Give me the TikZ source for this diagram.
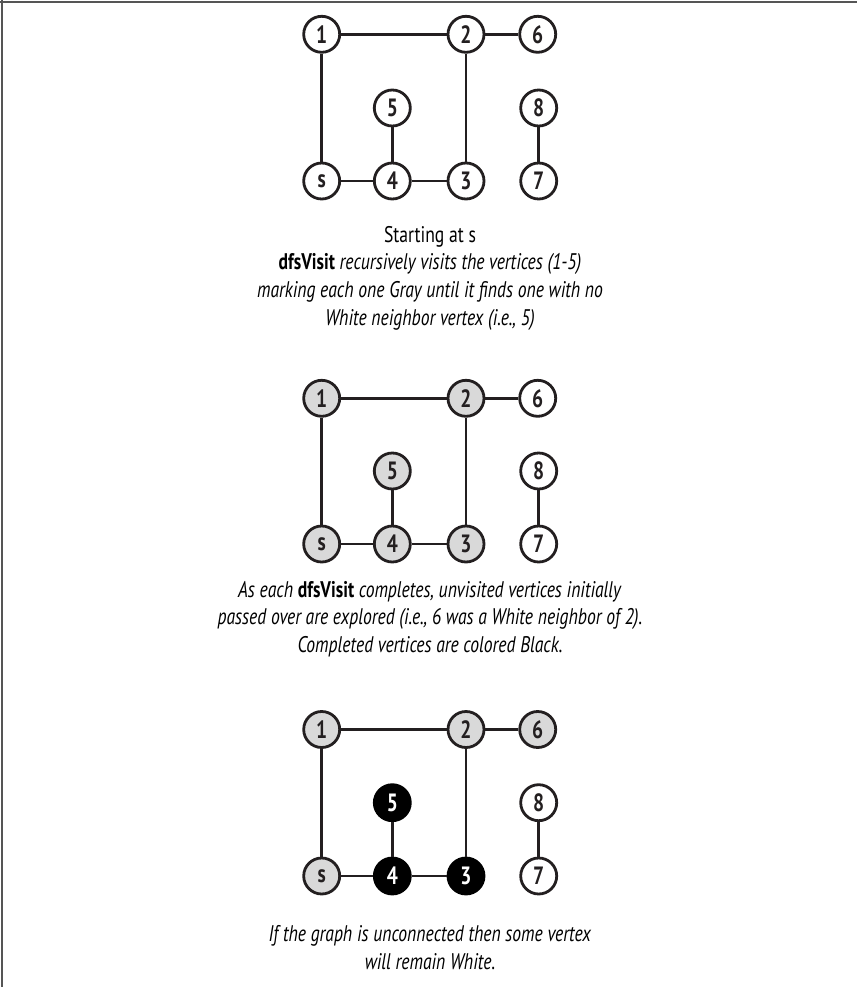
\documentclass[tikz,border=0pt]{standalone}
\usepackage{fontspec}
\setmainfont[FakeStretch=0.78]{PT Sans}
\definecolor{edgecol}{HTML}{231F20}
\definecolor{grayfill}{HTML}{D9D9D9}
\definecolor{framecol}{HTML}{555555}
\tikzset{
  vtx/.style={circle, draw=edgecol, line width=2.8pt, minimum size=36pt, inner sep=0pt,
    font=\fontsize{25}{25}\selectfont\bfseries, fill=white, text=edgecol},
  gvtx/.style={vtx, fill=grayfill},
  bvtx/.style={vtx, fill=black, draw=black, text=white},
  edge/.style={draw=edgecol, line width=2.8pt},
  caption/.style={align=center, font=\fontsize{22.6}{27.7}\selectfont, text=black},
  framel/.style={draw=framecol, line width=2pt}
}
\begin{document}
\begin{tikzpicture}[x=1pt,y=-1pt]
\useasboundingbox (0,0) rectangle (857,987);
\coordinate (fa) at (0,2);
\coordinate (fb) at (857,2);
\coordinate (fc) at (2,0);
\coordinate (fd) at (2,987);
\draw[framel] (fa) -- (fb);
\draw[framel] (fc) -- (fd);

% Graph 1
\node[vtx] (a1) at (321.7,34.3) {1};
\node[vtx] (a2) at (466,34.3) {2};
\node[vtx] (a6) at (537.7,34.3) {6};
\node[vtx] (a5) at (392.3,108) {5};
\node[vtx] (a8) at (538.7,108) {8};
\node[vtx] (as) at (321.7,181) {s};
\node[vtx] (a4) at (392.3,181) {4};
\node[vtx] (a3) at (466,181) {3};
\node[vtx] (a7) at (538.7,181) {7};
\foreach \u/\v in {a1/a2,a2/a6,a1/as,a2/a3,a5/a4,as/a4,a4/a3,a8/a7}
  \draw[edge] (\u) -- (\v);
\node[caption] (t1) at (430,278) {Starting at s\\\textbf{dfsVisit} \textit{recursively visits the vertices (1-5)}\\\textit{marking each one Gray until it finds one with no}\\\textit{White neighbor vertex (i.e., 5)}};

% Graph 2
\node[gvtx] (b1) at (321.7,398.3) {1};
\node[gvtx] (b2) at (466,398.3) {2};
\node[vtx] (b6) at (537.7,398.3) {6};
\node[gvtx] (b5) at (392.3,471) {5};
\node[vtx] (b8) at (538.7,471) {8};
\node[gvtx] (bs) at (321.7,544) {s};
\node[gvtx] (b4) at (392.3,544) {4};
\node[gvtx] (b3) at (466,544) {3};
\node[vtx] (b7) at (538.7,544) {7};
\foreach \u/\v in {b1/b2,b2/b6,b1/bs,b2/b3,b5/b4,bs/b4,b4/b3,b8/b7}
  \draw[edge] (\u) -- (\v);
\node[caption] (t2) at (430,619) {\textit{As each }\textbf{dfsVisit}\textit{ completes, unvisited vertices initially}\\\textit{passed over are explored (i.e., 6 was a White neighbor of 2).}\\\textit{Completed vertices are colored Black.}};

% Graph 3
\node[gvtx] (c1) at (321.7,729.5) {1};
\node[gvtx] (c2) at (466,729.5) {2};
\node[gvtx] (c6) at (537.7,729.5) {6};
\node[bvtx] (c5) at (392.3,802.7) {5};
\node[vtx] (c8) at (538.7,802.7) {8};
\node[gvtx] (cs) at (321.7,876) {s};
\node[bvtx] (c4) at (392.3,876) {4};
\node[bvtx] (c3) at (466,876) {3};
\node[vtx] (c7) at (538.7,876) {7};
\foreach \u/\v in {c1/c2,c2/c6,c1/cs,c2/c3,c5/c4,cs/c4,c4/c3,c8/c7}
  \draw[edge] (\u) -- (\v);
\node[caption] (t3) at (430,947.5) {\textit{If the graph is unconnected then some vertex}\\\textit{will remain White.}};
\end{tikzpicture}
\end{document}
